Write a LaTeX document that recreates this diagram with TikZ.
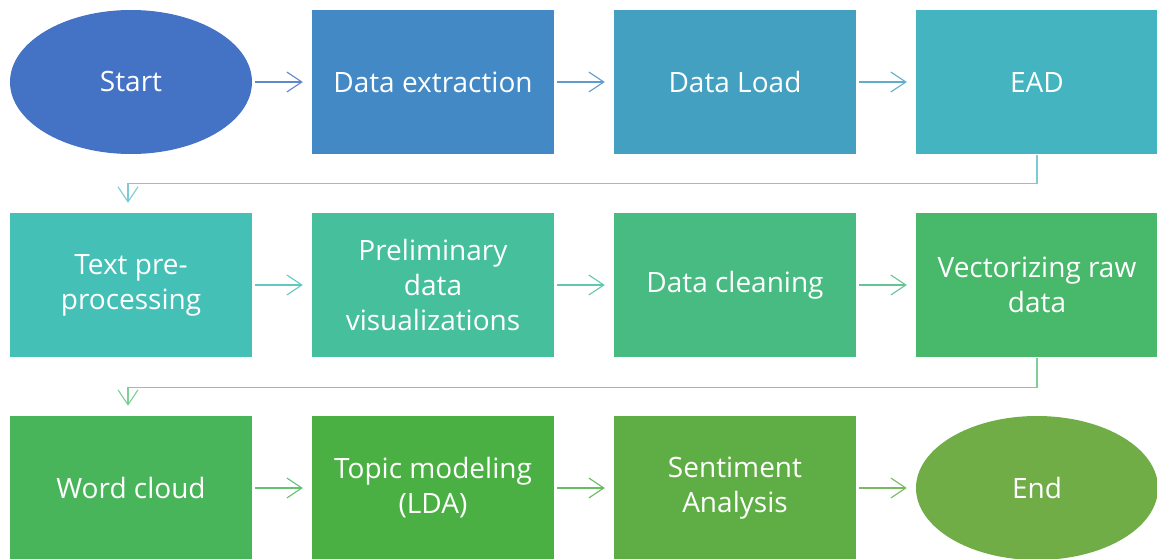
\documentclass[tikz,border=0pt]{standalone}
\usepackage{fontspec}
\setmainfont{Open Sans}
\usetikzlibrary{arrows.meta,shapes.geometric}

\definecolor{c1}{HTML}{4472C4}
\definecolor{c2}{HTML}{4389C6}
\definecolor{c3}{HTML}{44A0C1}
\definecolor{c4}{HTML}{44B4C1}
\definecolor{c5}{HTML}{45C0B6}
\definecolor{c6}{HTML}{45BF9C}
\definecolor{c7}{HTML}{47BB81}
\definecolor{c8}{HTML}{48B86A}
\definecolor{c9}{HTML}{49B55A}
\definecolor{c10}{HTML}{4BB043}
\definecolor{c11}{HTML}{5FAE45}
\definecolor{c12}{HTML}{70AD47}

\tikzset{
  x=1pt, y=-1pt,
  base/.style={minimum width=242pt, minimum height=144pt, inner sep=0pt,
    text=white, align=center, font=\fontsize{28}{35}\selectfont},
  stepbox/.style={base, rectangle, fill=#1},
  oval/.style={base, ellipse, fill=#1},
  arr/.style={draw=#1, line width=1.1pt, shorten <=3pt, shorten >=9pt,
    -{Straight Barb[length=15pt,width=20pt,line width=1.1pt]}},
  elbow/.style={draw=#1!70!white, line width=1.1pt, shorten <=1pt, shorten >=10pt,
    -{Straight Barb[length=15pt,width=20pt,line width=1.1pt]}},
}

\begin{document}
\begin{tikzpicture}
\useasboundingbox (0,0) rectangle (1157,559);

% first row
\node[oval=c1]    (start)   at (131,82)    {Start};
\node[stepbox=c2] (extract) at (433,82)    {Data extraction};
\node[stepbox=c3] (load)    at (735,82)    {Data Load};
\node[stepbox=c4] (ead)     at (1037,82)   {EAD};

% second row
\node[stepbox=c5] (prep)    at (131,285)   {Text pre-\\processing};
\node[stepbox=c6] (viz)     at (433,285)   {Preliminary\\data\\visualizations};
\node[stepbox=c7] (clean)   at (735,285)   {Data cleaning};
\node[stepbox=c8] (vect)    at (1037,285)  {Vectorizing raw\\data};

% third row
\node[stepbox=c9]  (cloud)  at (131,488)   {Word cloud};
\node[stepbox=c10] (lda)    at (433,488)   {Topic modeling\\(LDA)};
\node[stepbox=c11] (senti)  at (735,488)   {Sentiment\\Analysis};
\node[oval=c12]    (end)    at (1037,488)  {End};

% horizontal connectors
\draw[arr=c1!85!white]  (start) -- (extract);
\draw[arr=c2!85!white]  (extract) -- (load);
\draw[arr=c3!85!white]  (load) -- (ead);
\draw[arr=c5!85!white]  (prep) -- (viz);
\draw[arr=c6!85!white]  (viz) -- (clean);
\draw[arr=c7!85!white]  (clean) -- (vect);
\draw[arr=c9!85!white]  (cloud) -- (lda);
\draw[arr=c10!85!white] (lda) -- (senti);
\draw[arr=c11!85!white] (senti) -- (end);

% row-to-row connectors
\draw[elbow=c4] (ead.south) -- ++(0,29) -| ([xshift=-3pt]prep.north);
\draw[elbow=c8] (vect.south) -- ++(0,30) -| ([xshift=-3pt]cloud.north);
\end{tikzpicture}
\end{document}
